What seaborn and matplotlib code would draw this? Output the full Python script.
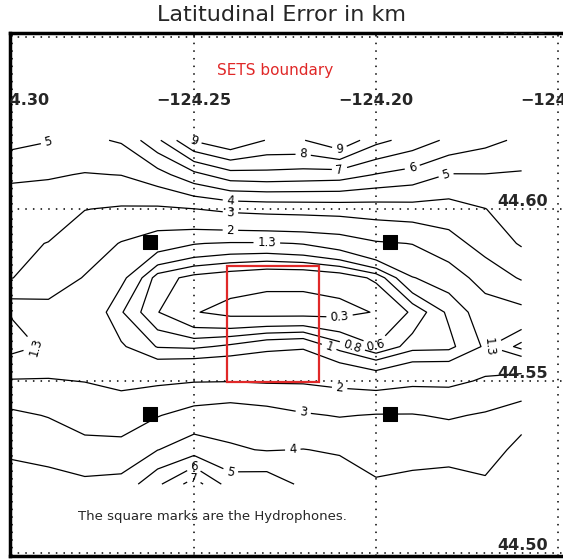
import numpy as np
import pandas as pd
import matplotlib
matplotlib.use("Agg")
import matplotlib.pyplot as plt
from matplotlib.patches import Rectangle
import seaborn as sns

# grid of the error field (km)
lon = [-124.30, -124.29, -124.28, -124.27, -124.26, -124.25, -124.24, -124.23,
       -124.22, -124.21, -124.20, -124.19, -124.18, -124.17, -124.16]
lat = [44.62, 44.61, 44.60, 44.59, 44.58, 44.57, 44.56, 44.55, 44.54, 44.53, 44.52]

row_4462 = [5.3, 5.05, 4.8, 5.1, 6.8, 9.1, 9.9, 8.95, 8.95, 9.9, 8.3, 7.6, 6.8, 6.3, 5.8]
row_4461 = [4.2, 4.1, 3.95, 4.02, 4.6, 5.7, 6.6, 6.7, 6.6, 6.5, 5.95, 5.6, 4.95, 4.97, 4.9]
row_4460 = [3.4, 3.4, 3.02, 2.9, 2.85, 2.98, 3.2, 3.3, 3.35, 3.4, 3.5, 3.6, 3.6, 3.98, 4.5]
row_4459 = [3.15, 2.98, 2.5, 1.95, 1.5, 1.32, 1.25, 1.25, 1.32, 1.5, 1.9, 2.02, 2.6, 3.4, 4.1]
row_4458 = [3.02, 2.5, 1.95, 1.4, 0.7, 0.53, 0.45, 0.38, 0.38, 0.45, 0.65, 1.28, 1.5, 2.4, 3.1]
row_4457 = [1.35, 1.7, 1.7, 1.02, 0.61, 0.32, 0.2, 0.18, 0.18, 0.2, 0.32, 0.64, 1.05, 1.52, 1.7]
row_4456 = [1.1, 1.4, 1.6, 1.35, 0.98, 0.95, 1.05, 1.2, 1.25, 0.9, 0.61, 0.9, 0.92, 1.35, 0.9]
row_4455 = [2.05, 2.05, 1.98, 1.8, 1.85, 1.95, 1.97, 1.9, 1.9, 1.75, 1.6, 1.8, 1.8, 2.1, 2.3]
row_4454 = [3.2, 2.95, 2.6, 2.5, 2.95, 3.4, 3.6, 3.4, 3.1, 2.95, 3.05, 3.05, 2.9, 3.1, 3.5]
row_4453 = [3.8, 3.7, 3.3, 3.3, 3.98, 4.5, 4.1, 3.95, 4.02, 3.9, 3.6, 3.7, 3.7, 3.4, 4.4]
row_4452 = [4.5, 4.3, 4.2, 4.3, 5.8, 7.5, 5.5, 5.6, 4.8, 4.5, 4.1, 4.2, 4.3, 4.2, 4.8]

levels = [0.3, 0.6, 0.8, 1, 1.3, 2, 3, 4, 5, 6, 7, 8, 9]
level_text = ["0.3", "0.6", "0.8", "1", "1.3", "2", "3", "4", "5", "6", "7", "8", "9"]

hyd_lon = [-124.2621, -124.1962, -124.2621, -124.1962]
hyd_lat = [44.5904, 44.5904, 44.5404, 44.5404]

sets_lon = [-124.2409, -124.2157]
sets_lat = [44.5497, 44.5834]

grid_lon = [-124.30, -124.25, -124.20, -124.15]
grid_lat = [44.65, 44.60, 44.55, 44.50]
lon_labels = ["\u2212124.30", "\u2212124.25", "\u2212124.20", "\u2212124.15"]
lat_labels = ["44.65", "44.60", "44.55", "44.50"]

Z = np.array([row_4462, row_4461, row_4460, row_4459, row_4458, row_4457,
              row_4456, row_4455, row_4454, row_4453, row_4452])

sns.set_style("white")
plt.rcParams['font.family'] = ['DejaVu Sans']

fig = plt.figure(figsize=(5.63, 5.59), dpi=100)
ax = fig.add_axes([10 / 563, 3 / 559, 553 / 563, 523 / 559])
ax.set_xlim(-124.30055, -124.14863)
ax.set_ylim(44.4991, 44.6512)

# dotted grid
for g in grid_lon:
    ax.axvline(g, color="black", lw=1.1, ls=(0, (1, 4)), zorder=1)
for g in grid_lat:
    ax.axhline(g, color="black", lw=1.1, ls=(0, (1, 4)), zorder=1)

cs = ax.contour(lon, lat, Z, levels=levels, colors="black", linewidths=0.9)
ax.clabel(cs, fmt=dict(zip(levels, level_text)), fontsize=8.5, inline=True,
          inline_spacing=4)

# hydrophones
hyd = pd.DataFrame({"lon": hyd_lon, "lat": hyd_lat})
sns.scatterplot(data=hyd, x="lon", y="lat", marker="s", s=90, color="black",
                edgecolor="black", ax=ax, zorder=5, legend=False)

# SETS boundary
ax.add_patch(Rectangle((sets_lon[0], sets_lat[0]), sets_lon[1] - sets_lon[0],
                       sets_lat[1] - sets_lat[0], fill=False,
                       edgecolor="#e02828", lw=1.6, zorder=6))
ax.text(-124.2277, 44.6404, "SETS boundary", color="#e02828", fontsize=11,
        ha="center", va="center")

# in-plot axis labels (cut at the frame, like the original)
for g, t in zip(grid_lon, lon_labels):
    ax.text(g, 44.6317, t, ha="center", va="center", fontsize=11.5,
            fontweight="bold", clip_on=True)
for g, t in zip(grid_lat, lat_labels):
    ax.text(-124.1527, g, t, ha="right", va="bottom", fontsize=11.5,
            fontweight="bold", clip_on=True)

ax.text(-124.2448, 44.5105, "The square marks are the Hydrophones.",
        ha="center", va="center", fontsize=9.5)

ax.set_xticks([])
ax.set_yticks([])
ax.set_xlabel("")
ax.set_ylabel("")
for side in ["left", "top", "bottom"]:
    ax.spines[side].set_linewidth(2.5)
    ax.spines[side].set_color("black")
ax.spines["right"].set_visible(False)

fig.text(0.5, 1 - 15 / 559, "Latitudinal Error in km", ha="center",
         va="center", fontsize=16)

fig.savefig("out.png", dpi=100)
